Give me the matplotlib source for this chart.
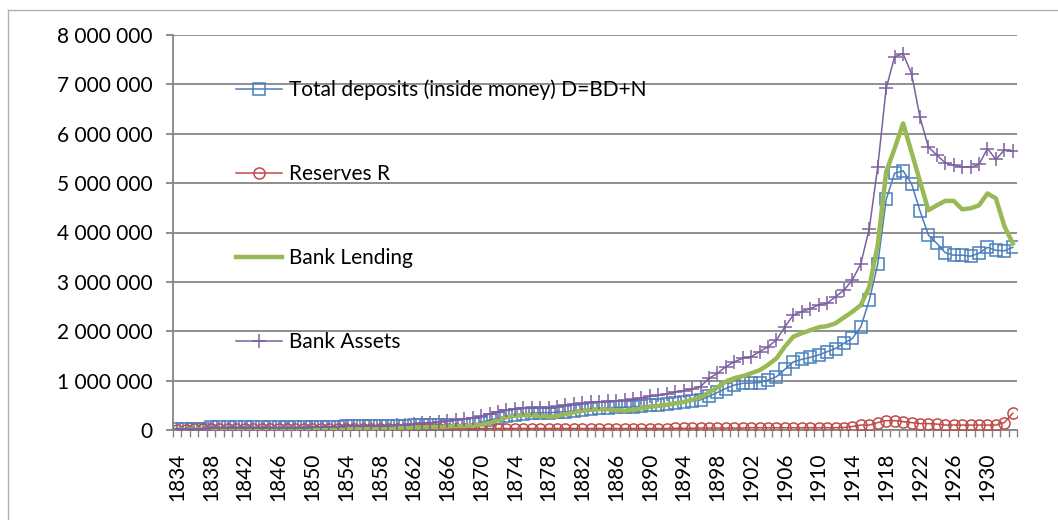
import matplotlib
matplotlib.use("Agg")
import matplotlib.pyplot as plt
from matplotlib.lines import Line2D
from matplotlib.ticker import FuncFormatter, FixedLocator
import numpy as np

plt.rcParams['font.family'] = ['Lato', 'DejaVu Sans']

years = list(range(1834, 1934))

# total deposits D = BD + N
deposits = [
    20000, 20000, 25000, 30000, 55000, 55000, 60000, 60000, 60000, 60000,
    60000, 60000, 55000, 55000, 60000, 60000, 65000, 60000, 65000, 70000,
    85000, 75000, 75000, 80000, 85000, 85000, 90000, 90000, 95000, 100000,
    105000, 100000, 95000, 105000, 110000, 115000, 150000, 200000, 240000, 280000,
    310000, 330000, 340000, 350000, 350000, 360000, 370000, 390000, 410000, 430000,
    440000, 450000, 460000, 460000, 470000, 480000, 500000, 510000, 530000, 550000,
    560000, 580000, 610000, 680000, 760000, 840000, 910000, 945000, 950000, 960000,
    1010000, 1080000, 1230000, 1380000, 1430000, 1470000, 1520000, 1585000, 1650000, 1755000,
    1855000, 2090000, 2630000, 3360000, 4670000, 5200000, 5250000, 4990000, 4440000, 3950000,
    3780000, 3590000, 3540000, 3540000, 3520000, 3580000, 3700000, 3640000, 3630000, 3700000,
]

reserves = [
    10000, 10000, 12000, 12000, 15000, 15000, 15000, 15000, 15000, 15000,
    15000, 15000, 15000, 15000, 15000, 15000, 15000, 15000, 15000, 15000,
    18000, 18000, 18000, 18000, 18000, 18000, 18000, 18000, 18000, 18000,
    20000, 20000, 20000, 25000, 25000, 28000, 30000, 30000, 30000, 30000,
    30000, 30000, 30000, 30000, 30000, 30000, 30000, 30000, 30000, 30000,
    30000, 30000, 30000, 30000, 30000, 30000, 30000, 30000, 30000, 35000,
    35000, 35000, 40000, 40000, 40000, 40000, 40000, 40000, 45000, 45000,
    45000, 45000, 45000, 45000, 45000, 45000, 45000, 45000, 45000, 50000,
    70000, 100000, 100000, 150000, 190000, 190000, 170000, 150000, 130000, 130000,
    120000, 100000, 100000, 100000, 100000, 100000, 100000, 100000, 150000, 340000,
]

lending = [
    10000, 10000, 12000, 12000, 15000, 15000, 15000, 18000, 18000, 20000,
    20000, 20000, 22000, 22000, 25000, 25000, 28000, 28000, 30000, 30000,
    35000, 35000, 38000, 40000, 40000, 45000, 45000, 50000, 50000, 55000,
    60000, 60000, 70000, 80000, 80000, 90000, 110000, 140000, 200000, 260000,
    290000, 300000, 300000, 290000, 270000, 280000, 320000, 360000, 390000, 410000,
    420000, 420000, 400000, 390000, 410000, 440000, 470000, 490000, 510000, 540000,
    570000, 610000, 660000, 760000, 860000, 980000, 1050000, 1090000, 1150000, 1210000,
    1320000, 1450000, 1690000, 1890000, 1960000, 2020000, 2080000, 2105000, 2160000, 2280000,
    2395000, 2530000, 2900000, 3745000, 5230000, 5700000, 6210000, 5630000, 5040000, 4450000,
    4550000, 4640000, 4640000, 4470000, 4490000, 4550000, 4790000, 4690000, 4130000, 3780000,
]

assets = [
    15000, 15000, 18000, 20000, 40000, 40000, 45000, 45000, 45000, 45000,
    45000, 45000, 45000, 45000, 50000, 50000, 55000, 55000, 60000, 65000,
    80000, 75000, 75000, 80000, 85000, 90000, 95000, 105000, 120000, 135000,
    150000, 160000, 180000, 200000, 220000, 250000, 280000, 320000, 370000, 400000,
    420000, 440000, 440000, 450000, 440000, 460000, 500000, 520000, 540000, 560000,
    570000, 580000, 590000, 600000, 620000, 650000, 680000, 700000, 730000, 770000,
    800000, 830000, 880000, 1046000, 1147000, 1282000, 1383000, 1450000, 1484000, 1585000,
    1686000, 1822000, 2090000, 2330000, 2395000, 2460000, 2530000, 2565000, 2700000, 2830000,
    3040000, 3370000, 4080000, 5330000, 6920000, 7560000, 7620000, 7220000, 6340000, 5730000,
    5570000, 5410000, 5360000, 5330000, 5320000, 5380000, 5700000, 5480000, 5670000, 5650000,
]

label_years = years[::4]

fig = plt.figure(figsize=(10.58, 5.2), dpi=100)
ax = fig.add_axes([173 / 1058, 1 - 430 / 520, 844 / 1058, 395 / 520])

x = np.arange(len(years))
ax.plot(x, deposits, color='#4A7EBB', lw=1.1, marker='s', ms=8, mfc='none',
        mec='#4A7EBB', mew=1.1, label='Total deposits (inside money) D=BD+N', zorder=3)
ax.plot(x, reserves, color='#BE4B48', lw=1.1, marker='o', ms=8, mfc='none',
        mec='#BE4B48', mew=1.1, label='Reserves R', zorder=3)
ax.plot(x, lending, color='#98B954', lw=3.2, label='Bank Lending', zorder=4)
ax.plot(x, assets, color='#7D60A0', lw=1.1, marker='+', ms=10, mew=1.1,
        label='Bank Assets', zorder=5)

ax.set_xlim(-0.5, len(years) - 0.5)
ax.set_ylim(0, 8000000)

# y axis: grid every million, spaces as thousands separators
ax.set_yticks(np.arange(0, 8000001, 1000000))
ax.yaxis.set_major_formatter(FuncFormatter(lambda v, p: f"{int(v):,}".replace(",", " ")))
ax.grid(axis='y', color='#868686', lw=1.3)
ax.set_axisbelow(True)
ax.tick_params(axis='y', length=5, width=1.3, color='#868686', pad=10, labelsize=15)

# x axis: tick marks between categories, labels every fourth year
ax.xaxis.set_major_locator(FixedLocator([years.index(y) for y in label_years]))
ax.set_xticklabels([str(y) for y in label_years], rotation=90)
ax.xaxis.set_minor_locator(FixedLocator(np.arange(-0.5, len(years), 1)))
ax.tick_params(axis='x', which='major', length=0, pad=16.5, labelsize=15)
ax.tick_params(axis='x', which='minor', length=5, width=1, color='#868686')

for s in ['top', 'right']:
    ax.spines[s].set_visible(False)
for s in ['left', 'bottom']:
    ax.spines[s].set_color('#868686')
    ax.spines[s].set_linewidth(1.3)

leg = ax.legend(loc='upper left', bbox_to_anchor=(0.075, 0.887), frameon=False,
                fontsize=15, labelspacing=3.07, handlelength=2.2, handletextpad=0.35,
                borderpad=0, borderaxespad=0)

# outer chart border
fig.add_artist(Line2D([8 / 1058, 8 / 1058], [0, 1 - 10 / 520], color='#b0b0b0', lw=1))
fig.add_artist(Line2D([8 / 1058, 1], [1 - 10 / 520, 1 - 10 / 520], color='#b0b0b0', lw=1))

fig.savefig('out.png', dpi=100)
